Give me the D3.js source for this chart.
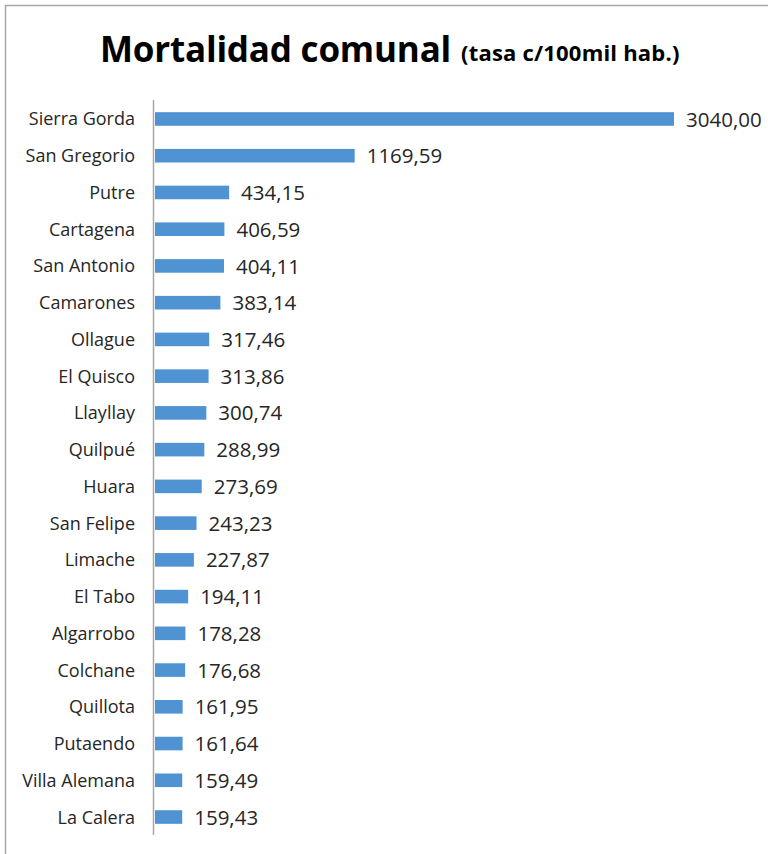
<!DOCTYPE html>
<html>
<head>
<meta charset="utf-8">
<script src="https://cdn.jsdelivr.net/npm/d3@7"></script>
<style>
  body { margin: 0; background: #fff; }
  svg { display: block; font-family: "Open Sans", Lato, sans-serif; }
</style>
</head>
<body>
<svg id="chart" width="768" height="854"></svg>
<script>
// comunas, ordered top to bottom
const comunas = ['Sierra Gorda', 'San Gregorio', 'Putre', 'Cartagena', 'San Antonio',
    'Camarones', 'Ollague', 'El Quisco', 'Llayllay', 'Quilpué', 'Huara', 'San Felipe',
    'Limache', 'El Tabo', 'Algarrobo', 'Colchane', 'Quillota', 'Putaendo',
    'Villa Alemana', 'La Calera'];

// tasa de mortalidad c/100mil hab.
const tasas = [3040.00, 1169.59, 434.15, 406.59, 404.11, 383.14, 317.46, 313.86,
    300.74, 288.99, 273.69, 243.23, 227.87, 194.11, 178.28, 176.68, 161.95,
    161.64, 159.49, 159.43];

const titulo = 'Mortalidad comunal';
const subtitulo = '(tasa c/100mil hab.)';

const data = comunas.map((c, i) => ({ comuna: c, tasa: tasas[i] }));

const svg = d3.select('#chart');
const es = d3.formatLocale({ decimal: ',', thousands: '', grouping: [3], currency: ['$', ''] });
const fmt = es.format('.2f');

// outer frame (only top and left edges fall inside the picture)
svg.append('rect')
    .attr('x', 5.5)
    .attr('y', 5.5)
    .attr('width', 800)
    .attr('height', 900)
    .attr('fill', 'none')
    .attr('stroke', '#a6a6a6')
    .attr('stroke-width', 1.5);

const title = svg.append('text')
    .attr('x', 100)
    .attr('y', 62)
    .attr('fill', '#000');

title.append('tspan')
    .attr('font-size', 35)
    .attr('font-weight', 'bold')
    .attr('letter-spacing', -0.2)
    .text(titulo);

title.append('tspan')
    .attr('dx', 10)
    .attr('dy', -1)
    .attr('font-size', 22)
    .attr('font-weight', 'bold')
    .attr('letter-spacing', 0.2)
    .text(subtitulo);

const x = d3.scaleLinear()
    .domain([0, 3040])
    .range([155, 674]);

const y = d3.scaleBand()
    .domain(comunas)
    .range([100.6, 835.4])
    .paddingInner(0.63)
    .paddingOuter(0.315);

svg.append('g')
    .selectAll('rect')
    .data(data)
    .enter()
    .append('rect')
    .attr('x', x(0))
    .attr('y', d => y(d.comuna))
    .attr('width', d => x(d.tasa) - x(0))
    .attr('height', y.bandwidth())
    .attr('fill', '#4f93d2');

// vertical category axis
svg.append('line')
    .attr('x1', 153.5)
    .attr('x2', 153.5)
    .attr('y1', 100)
    .attr('y2', 835)
    .attr('stroke', '#a6a6a6')
    .attr('stroke-width', 1.5);

svg.append('g')
    .selectAll('text')
    .data(data)
    .enter()
    .append('text')
    .attr('x', 135)
    .attr('y', d => y(d.comuna) + y.bandwidth() / 2)
    .attr('dy', '0.36em')
    .attr('text-anchor', 'end')
    .attr('font-size', 18)
    .attr('fill', '#262626')
    .text(d => d.comuna);

svg.append('g')
    .selectAll('text')
    .data(data)
    .enter()
    .append('text')
    .attr('x', d => x(d.tasa) + 12)
    .attr('y', d => y(d.comuna) + y.bandwidth() / 2)
    .attr('dy', '0.37em')
    .attr('font-size', 20.5)
    .attr('fill', '#262626')
    .text(d => fmt(d.tasa));
</script>
</body>
</html>
